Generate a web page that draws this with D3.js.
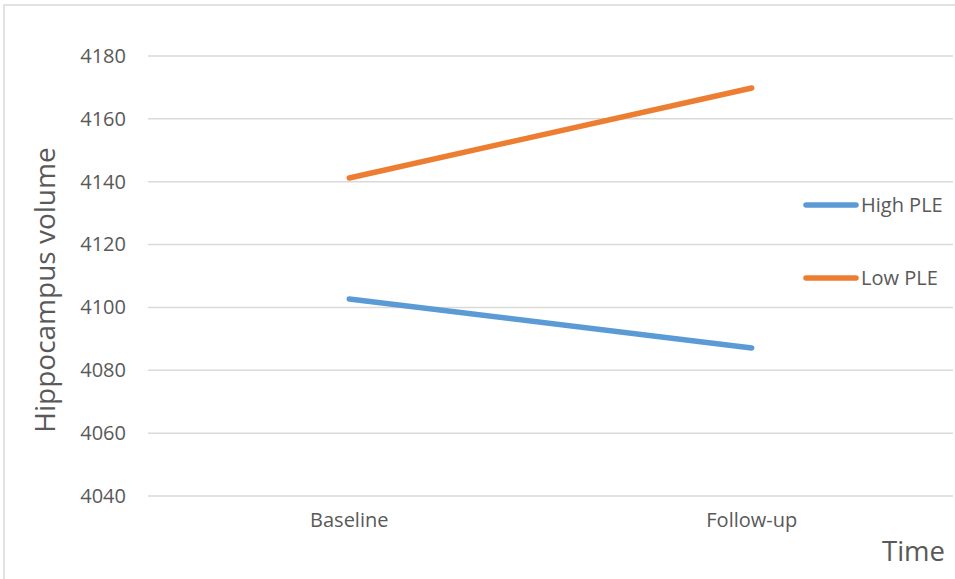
<!DOCTYPE html>
<html>
<head>
<meta charset="utf-8">
<script src="https://cdn.jsdelivr.net/npm/d3@7/dist/d3.min.js"></script>
<style>
  html, body { margin: 0; padding: 0; background: #fff; }
  svg { display: block; }
  text { font-family: "Open Sans", "Noto Sans", sans-serif; fill: #595959; }
</style>
</head>
<body>
<svg id="chart" width="955" height="579"></svg>
<script>
// Hippocampus volume by time point for high / low PLE groups
const timePoints = ["Baseline", "Follow-up"];
const seriesNames = ["High PLE", "Low PLE"];
const highPLE = [4102.7, 4087.1];
const lowPLE = [4141.2, 4169.8];
const yTicks = [4040, 4060, 4080, 4100, 4120, 4140, 4160, 4180];
const seriesColors = ["#5B9BD5", "#ED7D31"];

const svg = d3.select("#chart");
const W = 955, H = 579;

// chart frame
svg.append("rect")
  .attr("x", 4).attr("y", 5).attr("width", W + 10).attr("height", H + 10)
  .attr("fill", "#fff").attr("stroke", "#D9D9D9").attr("stroke-width", 1.5);

const plot = { left: 148, right: 953, top: 56, bottom: 496 };

const x = d3.scaleBand().domain(timePoints).range([plot.left, plot.right]);
const y = d3.scaleLinear().domain([4040, 4180]).range([plot.bottom, plot.top]);

// horizontal gridlines
svg.append("g").selectAll("line").data(yTicks).join("line")
  .attr("x1", plot.left).attr("x2", plot.right)
  .attr("y1", d => y(d)).attr("y2", d => y(d))
  .attr("stroke", "#D9D9D9").attr("stroke-width", 1.5);

// y axis tick labels
const yAxis = d3.axisLeft(y).tickValues(yTicks).tickSize(0).tickPadding(0).tickFormat(d3.format("d"));
const gy = svg.append("g").attr("transform", `translate(126,0)`).call(yAxis);
gy.select(".domain").remove();
gy.selectAll("text").attr("font-size", 20).attr("fill", "#595959")
  .style("font-family", '"Open Sans", "Noto Sans", sans-serif');

// x axis category labels
const xAxis = d3.axisBottom(x).tickSize(0).tickPadding(0);
const gx = svg.append("g").attr("transform", `translate(0,${plot.bottom + 17})`).call(xAxis);
gx.select(".domain").remove();
gx.selectAll("text").attr("font-size", 20).attr("fill", "#595959")
  .style("font-family", '"Open Sans", "Noto Sans", sans-serif');

// axis titles
svg.append("text")
  .attr("transform", `translate(55,290) rotate(-90)`)
  .attr("text-anchor", "middle")
  .attr("font-size", 28)
  .text("Hippocampus volume");
svg.append("text")
  .attr("x", 945).attr("y", 561)
  .attr("text-anchor", "end")
  .attr("font-size", 27.5)
  .text("Time");

// series lines
const allSeries = [highPLE, lowPLE];
const line = d3.line()
  .x((d, i) => x(timePoints[i]) + x.bandwidth() / 2)
  .y(d => y(d));

svg.append("g").selectAll("path").data(allSeries).join("path")
  .attr("d", d => line(d))
  .attr("fill", "none")
  .attr("stroke", (d, i) => seriesColors[i])
  .attr("stroke-width", 5.5)
  .attr("stroke-linecap", "round");

// legend
const legend = svg.append("g").selectAll("g").data(seriesNames).join("g")
  .attr("transform", (d, i) => `translate(0,${205 + i * 73})`);
legend.append("line")
  .attr("x1", 806).attr("x2", 856)
  .attr("stroke", (d, i) => seriesColors[i])
  .attr("stroke-width", 5.5)
  .attr("stroke-linecap", "round");
legend.append("text")
  .attr("x", 861).attr("y", 7)
  .attr("font-size", 20)
  .text(d => d);
</script>
</body>
</html>
